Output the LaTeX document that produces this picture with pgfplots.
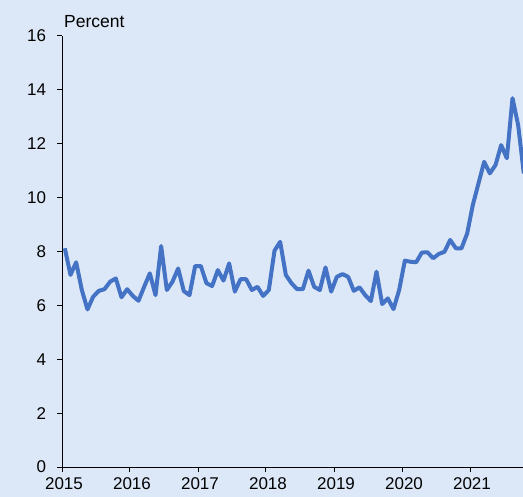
\documentclass[border=0pt]{standalone}
\usepackage{fontspec}
\setmainfont{Liberation Sans}
\usepackage{pgfplots}
\usepackage{pgfplotstable}
\pgfplotsset{compat=1.18}
\definecolor{bgc}{RGB}{220,232,247}
\definecolor{linec}{RGB}{68,114,196}
\pgfplotstableread{
m v
0 8.12
1 7.13
2 7.60
3 6.57
4 5.85
5 6.32
6 6.54
7 6.60
8 6.88
9 7.00
10 6.30
11 6.60
12 6.35
13 6.17
14 6.69
15 7.19
16 6.38
17 8.20
18 6.57
19 6.88
20 7.37
21 6.53
22 6.38
23 7.46
24 7.46
25 6.82
26 6.72
27 7.31
28 6.92
29 7.56
30 6.51
31 6.97
32 6.97
33 6.57
34 6.69
35 6.35
36 6.57
37 8.03
38 8.36
39 7.13
40 6.82
41 6.60
42 6.60
43 7.29
44 6.69
45 6.57
46 7.41
47 6.51
48 7.06
49 7.16
50 7.06
51 6.54
52 6.67
53 6.38
54 6.16
55 7.25
56 6.05
57 6.26
58 5.86
59 6.57
60 7.66
61 7.62
62 7.60
63 7.96
64 7.97
65 7.75
66 7.91
67 7.99
68 8.43
69 8.12
70 8.12
71 8.67
72 9.73
73 10.53
74 11.33
75 10.90
76 11.21
77 11.95
78 11.46
79 13.69
80 12.69
81 10.90
}\datatable
\begin{document}
\fontsize{17bp}{20bp}\selectfont
\begin{tikzpicture}
\fill[bgc] (0,0) rectangle (523bp,497bp);
\useasboundingbox (0,0) rectangle (523bp,497bp);
\begin{axis}[
  name=ax,
  at={(62bp,30bp)}, anchor=south west,
  scale only axis, width=461bp, height=431bp,
  xmin=2015, xmax=2021.7794, ymin=0, ymax=16,
  axis lines=left, axis line style={-, black, line width=1bp},
  xtick={2015,2016,...,2021}, ytick={0,2,...,16},
  xticklabel style={/pgf/number format/1000 sep={}, yshift=-4bp, xshift=2bp, inner sep=1bp},
  yticklabel style={xshift=-5bp},
  /pgf/number format/assume math mode=true,
  tick align=outside, major tick length=5bp,
  tick style={black, line width=1bp},
  ticklabel style={font=\fontsize{17bp}{20bp}\selectfont, text=black},
  clip=true,
]
\addplot[linec, line width=4bp, line join=round, mark=none]
  table[x expr={2015+(\thisrow{m}+0.5)/12}, y=v]{\datatable};
\end{axis}
\node[anchor=base west, inner sep=0pt, font=\fontsize{17.5bp}{20bp}\selectfont]
  at ([xshift=2bp,yshift=8bp]ax.north west) {Percent};
\end{tikzpicture}
\end{document}
